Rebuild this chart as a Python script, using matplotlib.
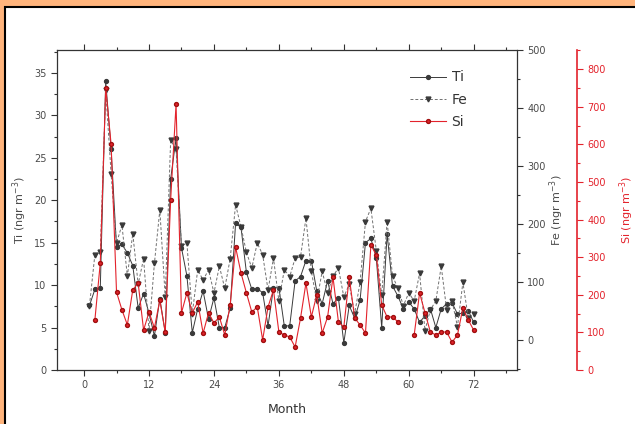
import numpy as np
import matplotlib
matplotlib.use('Agg')
import matplotlib.pyplot as plt
import matplotlib.ticker as mticker
from matplotlib.lines import Line2D
from matplotlib.patches import Rectangle

plt.rcParams.update({'font.family': 'DejaVu Sans', 'font.size': 7})

months = np.arange(1, 73)
ti = [7.6, 9.5, 9.7, 34.0, 26.0, 14.5, 14.8, 13.8, 12.3, 7.3, 9.0, 6.7, 4.0, 8.4, 4.4,
      22.5, 27.3, 14.4, 11.1, 4.4, 7.2, 9.3, 6.0, 8.5, 5.0, 5.0, 7.3, 17.3, 16.8, 11.5,
      9.5, 9.6, 9.1, 5.2, 9.7, 9.7, 5.2, 5.2, 10.5, 11.0, 12.9, 12.9, 9.3, 7.8, 10.5,
      7.8, 8.5, 3.2, 7.6, 6.1, 8.2, 15.0, 15.5, 13.2, 5.0, 16.0, 9.9, 8.7, 7.2, 8.0,
      7.2, 5.6, 6.4, 7.2, 5.0, 7.2, 7.8, 7.9, 6.6, 6.7, 7.0, 5.6]
fe = [59, 147, 151, 431, 286, 167, 198, 110, 183, 96, 140, 16, 132, 224, 74,
      344, 329, 162, 167, 45, 121, 103, 121, 81, 127, 89, 140, 233, 195, 151,
      124, 167, 147, 86, 141, 67, 121, 109, 141, 143, 210, 118, 67, 118, 81,
      110, 124, 74, 96, 45, 99, 204, 227, 154, 77, 204, 110, 89, 59, 81,
      67, 115, 16, 52, 67, 127, 52, 67, 23, 99, 38, 45]
si = [np.nan, 133, 285, 750, 600, 207, 160, 120, 213, 231, 106, 154, 112, 186, 100,
      452, 707, 152, 205, 152, 181, 98, 152, 125, 141, 93, 173, 327, 258, 205,
      154, 168, 80, 168, 213, 101, 93, 88, 61, 138, 231, 141, 200, 98, 141,
      247, 128, 114, 247, 138, 120, 98, 332, 306, 173, 141, 141, 128, np.nan, np.nan,
      93, 205, 152, 101, 93, 101, 101, 74, 93, 165, 133, 106]

RED = '#e3232c'
DARK = '#3a3a3a'
TXT = '#4a4a4a'

fig = plt.figure(figsize=(6.35, 4.24), dpi=100, facecolor='#ffb47c')
bg = fig.add_axes([0, 0, 1, 1], zorder=-10)
bg.set_axis_off()
bg.add_patch(Rectangle((5/635, -0.02), 1.0, 0.02 + 417/424, transform=bg.transAxes,
                       facecolor='white', edgecolor='black', linewidth=1.5))

ax = fig.add_axes([57/635, 54/424, 460/635, 320/424])
ax.set_facecolor('none')
ax2 = ax.twinx()
ax3 = ax.twinx()
ax3.spines['right'].set_position(('axes', 520/460))

ti_style = dict(color=DARK, lw=0.7, marker='o', ms=2.8, mfc=DARK, mec=DARK)
fe_style = dict(color='#707070', lw=0.7, ls=(0, (3, 2)), marker='v', ms=3.5, mfc=DARK, mec=DARK)
si_style = dict(color=RED, lw=0.8, marker='o', ms=2.8, mfc=RED, mec='#a01010')

ax.plot(months, ti, **ti_style)
ax2.plot(months, fe, **fe_style)
ax3.plot(months, si, **si_style)

ax.set_xlim(-5, 80)
ax.set_ylim(0, 37.7)
ax2.set_ylim(-52, 500)
ax3.set_ylim(0, 851)

ax.xaxis.set_major_locator(mticker.MultipleLocator(12))
ax.xaxis.set_minor_locator(mticker.MultipleLocator(6))
ax.yaxis.set_major_locator(mticker.MultipleLocator(5))
ax.yaxis.set_minor_locator(mticker.MultipleLocator(2.5))
ax2.yaxis.set_major_locator(mticker.MultipleLocator(100))
ax2.yaxis.set_minor_locator(mticker.MultipleLocator(50))
ax3.yaxis.set_major_locator(mticker.MultipleLocator(100))
ax3.yaxis.set_minor_locator(mticker.MultipleLocator(50))

for a in (ax, ax2, ax3):
    for s in a.spines.values():
        s.set_linewidth(0.9)
        s.set_color('#333333')
ax.spines['right'].set_visible(False)
ax3.spines['right'].set_color(RED)
ax3.spines['right'].set_linewidth(1.2)
for s in ('left', 'top', 'bottom'):
    ax2.spines[s].set_visible(False)
    ax3.spines[s].set_visible(False)

ax.tick_params(axis='both', which='major', length=4, width=0.8, colors='#333333', labelcolor=TXT, top=True)
ax.tick_params(axis='both', which='minor', length=2.5, width=0.8, colors='#333333', top=True)
ax2.tick_params(axis='y', which='major', length=4, width=0.8, colors='#333333', labelcolor=TXT)
ax2.tick_params(axis='y', which='minor', length=2.5, width=0.8, colors='#333333')
ax3.tick_params(axis='y', which='major', length=4, width=0.8, colors=RED, labelcolor=RED)
ax3.tick_params(axis='y', which='minor', length=2.5, width=0.8, colors=RED)

ax.set_xlabel('Month', fontsize=9, color='#333333', labelpad=9)
ax.set_ylabel('Ti (ngr m$^{-3}$)', fontsize=8, color=TXT, labelpad=4)
ax2.set_ylabel('Fe (ngr m$^{-3}$)', fontsize=8, color=TXT, labelpad=1)
ax3.set_ylabel('Si (ngr m$^{-3}$)', fontsize=8, color=RED, labelpad=8)

handles = [Line2D([], [], **ti_style), Line2D([], [], **fe_style), Line2D([], [], **si_style)]
leg = ax3.legend(handles, ['Ti', 'Fe', 'Si'], loc='upper left', bbox_to_anchor=(0.74, 0.975),
                 frameon=False, fontsize=10, handlelength=2.6, handletextpad=0.4, labelspacing=0.6)
for t in leg.get_texts():
    t.set_color('#333333')

plt.savefig('out.png', facecolor=fig.get_facecolor())
